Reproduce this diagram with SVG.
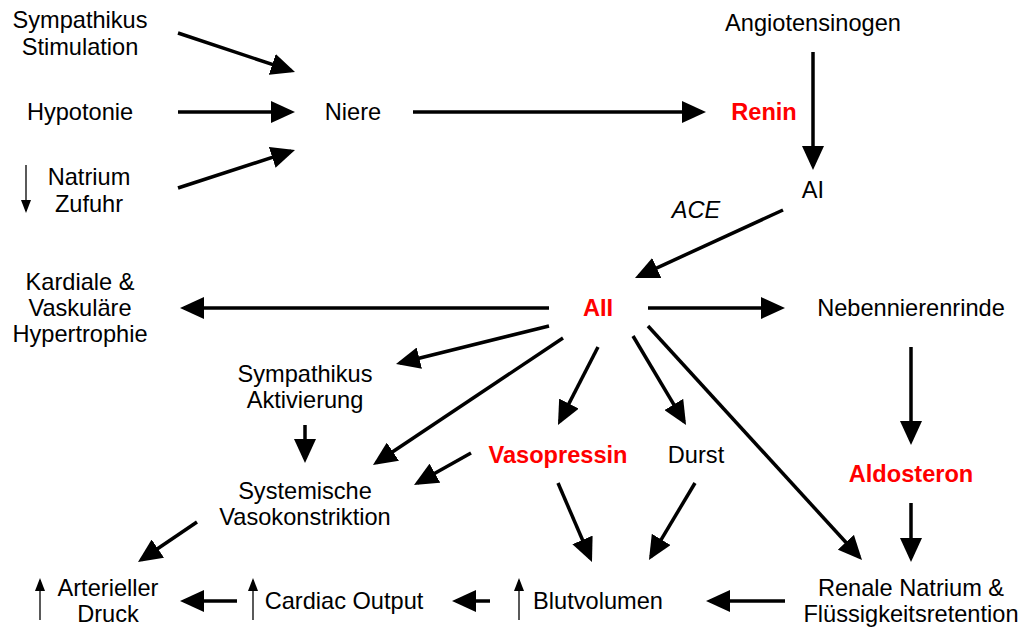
<svg xmlns="http://www.w3.org/2000/svg" width="1023" height="627" viewBox="0 0 1023 627">
<style>
text{font-family:"Liberation Sans",Arial,sans-serif;font-size:23.6px;fill:#000;text-anchor:middle}
.r{fill:#ff0000;font-weight:bold}
.i{font-style:italic}
.c line{stroke:#000;stroke-width:3.5;marker-end:url(#a)}
.s line{stroke:#000;stroke-width:1.3;marker-end:url(#b)}
</style>
<defs>
<marker id="a" markerUnits="userSpaceOnUse" markerWidth="24" markerHeight="22" refX="20" refY="11" orient="auto"><path d="M0,0 L24,11 L0,22 z" fill="#000"/></marker>
<marker id="b" markerUnits="userSpaceOnUse" markerWidth="13" markerHeight="10" refX="11" refY="5" orient="auto"><path d="M0,0 L13,5 L0,10 z" fill="#000"/></marker>
</defs>
<rect width="1023" height="627" fill="#fff"/>
<g id="sympathikus-stim"><text x="80" y="28">Sympathikus</text><text x="80" y="55">Stimulation</text></g>
<g id="hypotonie"><text x="80" y="120">Hypotonie</text></g>
<g id="natrium"><text x="89" y="185">Natrium</text><text x="89" y="212">Zufuhr</text><g class="s"><line x1="26" y1="165" x2="26" y2="211"/></g></g>
<g id="niere"><text x="353" y="120">Niere</text></g>
<g id="renin"><text class="r" x="764" y="120">Renin</text></g>
<g id="angiotensinogen"><text x="813" y="31">Angiotensinogen</text></g>
<g id="ai"><text x="813" y="198">AI</text></g>
<g id="ace"><text class="i" x="696" y="218">ACE</text></g>
<g id="aii"><text class="r" x="598" y="316">AII</text></g>
<g id="hypertrophie"><text x="80" y="290">Kardiale &amp;</text><text x="80" y="316">Vaskuläre</text><text x="80" y="342">Hypertrophie</text></g>
<g id="nebennierenrinde"><text x="911" y="316">Nebennierenrinde</text></g>
<g id="sympathikus-akt"><text x="305" y="382">Sympathikus</text><text x="305" y="408">Aktivierung</text></g>
<g id="vasokonstriktion"><text x="305" y="499">Systemische</text><text x="305" y="525">Vasokonstriktion</text></g>
<g id="vasopressin"><text class="r" x="558" y="463">Vasopressin</text></g>
<g id="durst"><text x="696" y="463">Durst</text></g>
<g id="aldosteron"><text class="r" x="911" y="482">Aldosteron</text></g>
<g id="druck"><text x="108" y="596">Arterieller</text><text x="108" y="622">Druck</text><g class="s"><line x1="40" y1="620" x2="40" y2="580"/></g></g>
<g id="cardiac"><text x="344" y="609">Cardiac Output</text><g class="s"><line x1="253" y1="620" x2="253" y2="580"/></g></g>
<g id="blutvolumen"><text x="598" y="609">Blutvolumen</text><g class="s"><line x1="519" y1="620" x2="519" y2="580"/></g></g>
<g id="retention"><text x="911" y="596">Renale Natrium &amp;</text><text x="911" y="622">Flüssigkeitsretention</text></g>
<g id="connectors" class="c">
<line x1="178" y1="33" x2="291.2" y2="70.7"/>
<line x1="178" y1="112" x2="291" y2="112"/>
<line x1="178" y1="188" x2="291.2" y2="151.2"/>
<line x1="413" y1="112" x2="702" y2="112"/>
<line x1="813" y1="52" x2="813" y2="166"/>
<line x1="783" y1="210" x2="638.6" y2="276.3"/>
<line x1="549" y1="308" x2="184" y2="308"/>
<line x1="648" y1="308" x2="781" y2="308"/>
<line x1="911" y1="347" x2="911" y2="441"/>
<line x1="911" y1="503" x2="911" y2="558"/>
<line x1="549" y1="326" x2="399.9" y2="363"/>
<line x1="305" y1="425" x2="305" y2="459"/>
<line x1="563" y1="338" x2="376.3" y2="462.8"/>
<line x1="598" y1="347" x2="559.8" y2="421.4"/>
<line x1="633" y1="336" x2="684" y2="421.6"/>
<line x1="648" y1="326" x2="859.3" y2="557"/>
<line x1="471" y1="453" x2="417.5" y2="483"/>
<line x1="558" y1="483" x2="590.4" y2="558.3"/>
<line x1="695" y1="483" x2="651" y2="556.6"/>
<line x1="197" y1="522" x2="141.3" y2="559.8"/>
<line x1="785" y1="601" x2="710" y2="601"/>
<line x1="490" y1="601" x2="456" y2="601"/>
<line x1="237" y1="601" x2="184" y2="601"/>
</g>
</svg>
